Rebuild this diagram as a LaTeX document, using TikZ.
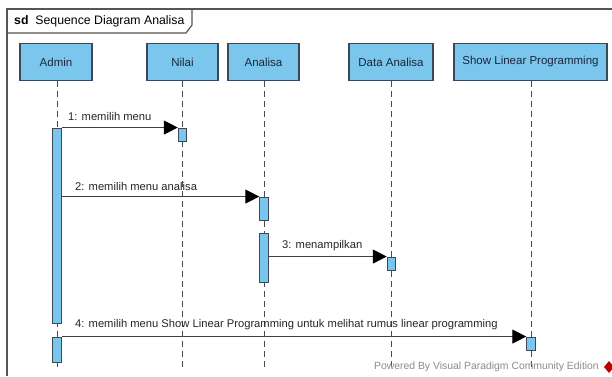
\documentclass[tikz,border=0pt]{standalone}
\usepackage{fontspec}
\setmainfont{Liberation Sans}
\usetikzlibrary{arrows.meta}
\definecolor{headfill}{RGB}{122,198,236}
\definecolor{headline}{RGB}{60,72,88}
\definecolor{inktext}{RGB}{28,38,60}
\definecolor{framecol}{RGB}{85,85,85}
\tikzset{
  head/.style={draw=headline, line width=1.1pt, fill=headfill, minimum height=37pt,
    inner sep=0pt, text=inktext, font=\fontsize{11.5}{13}\selectfont},
  lifeline/.style={draw=black!70, dash pattern=on 6pt off 4pt, line width=0.9pt},
  actbar/.style={draw=headline, line width=0.9pt, fill=headfill, minimum width=8.5pt, inner sep=0pt},
  msg/.style={draw=black!75, line width=1pt, -{Triangle[length=14pt,width=14pt,color=black]}},
  msglabel/.style={anchor=west, inner sep=0pt, text=black!85, font=\fontsize{11.2}{13}\selectfont},
  framebox/.style={draw=framecol, line width=1.2pt},
}
\begin{document}
\begin{tikzpicture}[x=1pt,y=-1pt]
\useasboundingbox (0,0) rectangle (612,376);
\fill[white] (0,0) rectangle (612,376);

% frame and its tag
\draw[framebox] (612,9) -- (7,9) -- (7,376);
\draw[framebox] (7,33) -- (186,33) -- (192,25) -- (192,9);
\node[anchor=west, inner sep=0pt, font=\fontsize{12.3}{14}\selectfont] (title) at (14,21)
  {\textbf{sd}\ \ Sequence Diagram Analisa};

% lifeline heads
\node[head, minimum width=72pt] (admin) at (56,62) {Admin};
\node[head, minimum width=71pt] (nilai) at (182.5,62) {Nilai};
\node[head, minimum width=71pt] (analisa) at (263.5,62) {Analisa};
\node[head, minimum width=84pt] (data) at (391,62) {Data Analisa};
\node[head, minimum width=153pt] (slp) at (530.5,62) {Show Linear Programming};

% lifeline ends
\coordinate (adminEnd) at (57,369);
\coordinate (nilaiEnd) at (182.5,369);
\coordinate (analisaEnd) at (264,369);
\coordinate (dataEnd) at (391.5,369);
\coordinate (slpEnd) at (531,369);

\draw[lifeline] (admin.south -| adminEnd) -- (adminEnd);
\draw[lifeline] (nilai.south -| nilaiEnd) -- (nilaiEnd);
\draw[lifeline] (analisa.south -| analisaEnd) -- (analisaEnd);
\draw[lifeline] (data.south -| dataEnd) -- (dataEnd);
\draw[lifeline] (slp.south -| slpEnd) -- (slpEnd);

% activation bars
\node[actbar, minimum height=195pt] (a1) at (57,225.5) {};
\node[actbar, minimum height=25pt] (a2) at (57,349.5) {};
\node[actbar, minimum height=13pt] (n1) at (182.5,134.5) {};
\node[actbar, minimum height=23pt] (an1) at (264,208.5) {};
\node[actbar, minimum height=49pt] (an2) at (264,257.5) {};
\node[actbar, minimum height=13pt] (d1) at (391.5,263.5) {};
\node[actbar, minimum height=13pt] (s1) at (531,343.5) {};

% messages
\draw[msg] (a1.north east) -- (n1.north west);
\draw[msg] (a1.east |- an1.north) -- (an1.north west);
\draw[msg] (an2.east |- d1.north) -- (d1.north west);
\draw[msg] (a2.north east) -- (s1.north west);

\node[msglabel] (m1) at (68,116) {1: memilih menu};
\node[msglabel] (m2) at (75,186) {2: memilih menu analisa};
\node[msglabel] (m3) at (282,246) {3: menampilkan};
\node[msglabel] (m4) at (75,325) {4: memilih menu Show Linear Programming untuk melihat rumus linear programming};

% edition watermark
\node[anchor=east, inner sep=0pt, text=black!45, font=\fontsize{10.4}{12}\selectfont] (wm) at (599,367)
  {Powered By Visual Paradigm Community Edition};
\fill[red!75!black] (604,367) -- (609,361) -- (614,367) -- (609,373) -- cycle;
\end{tikzpicture}
\end{document}
